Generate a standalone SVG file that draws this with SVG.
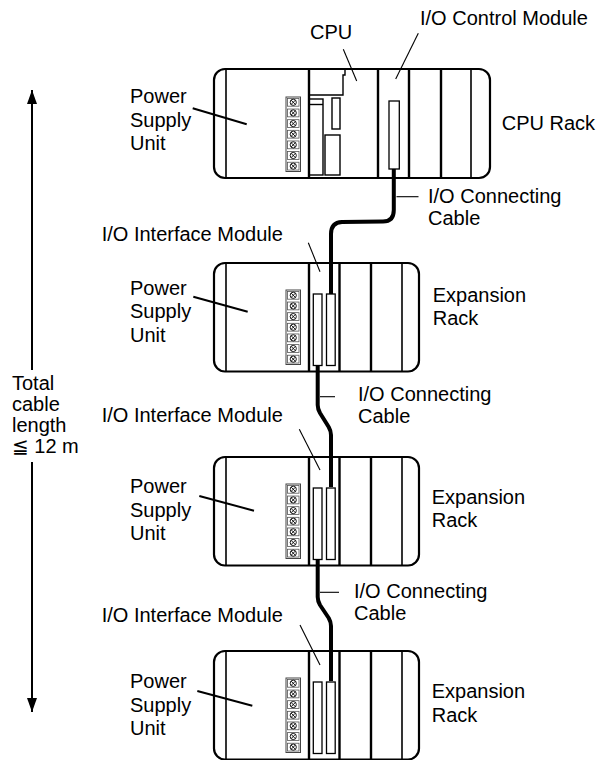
<svg xmlns="http://www.w3.org/2000/svg" xmlns:xlink="http://www.w3.org/1999/xlink" width="612" height="760" viewBox="0 0 612 760">
<style>
.t{font-family:"Liberation Sans",Arial,"DejaVu Sans","Noto Sans CJK JP",sans-serif;font-size:20px;fill:#000}
.rack{fill:#fff;stroke:#000;stroke-width:2.2}
.dv{stroke:#000;stroke-width:2.4}
.dt{stroke:#000;stroke-width:1.6}
.conn{fill:#fff;stroke:#000;stroke-width:1.3}
.thin{fill:none;stroke:#000;stroke-width:1.4}
.lead{stroke:#000;stroke-width:1.1;fill:none}
.lead2{stroke:#000;stroke-width:2;fill:none}
.cable{stroke:#000;stroke-width:4;fill:none;stroke-linejoin:round}
.tbo{fill:#fff;stroke:#444;stroke-width:1}
.tbc{fill:#fff;stroke:#555;stroke-width:0.8}
.sc{fill:none;stroke:#000;stroke-width:0.9}
</style>
<defs>
<marker id="ah" viewBox="0 0 14 10" refX="14" refY="5" markerWidth="14" markerHeight="10" markerUnits="userSpaceOnUse" orient="auto">
<path d="M0,0 L14,5 L0,10 z" fill="#000"/>
</marker>
<g id="term">
<rect class="tbc" x="1.5" y="1.4" width="11.5" height="7.8"/>
<circle class="sc" cx="7.25" cy="5.3" r="3.1"/>
<path class="sc" d="M5.1,3.15 L9.4,7.45 M9.4,3.15 L5.1,7.45"/>
</g>
<g id="tb">
<rect class="tbo" x="0" y="0" width="14.5" height="74.5"/>
<use href="#term" y="0"/>
<use href="#term" y="10.64"/>
<use href="#term" y="21.28"/>
<use href="#term" y="31.92"/>
<use href="#term" y="42.56"/>
<use href="#term" y="53.2"/>
<use href="#term" y="63.84"/>
</g>
<g id="exp">
<rect class="rack" x="0" y="0" width="205" height="108.5" rx="11"/>
<line class="dt" x1="12" y1="0" x2="12" y2="108.5"/>
<line class="dv" x1="95" y1="0" x2="95" y2="108.5"/>
<line class="dv" x1="125.5" y1="0" x2="125.5" y2="108.5"/>
<line class="dv" x1="157" y1="0" x2="157" y2="108.5"/>
<line class="dt" x1="188" y1="0" x2="188" y2="108.5"/>
<use href="#tb" x="72" y="27"/>
<rect class="conn" x="99.3" y="31" width="8.7" height="71.5"/>
<rect class="conn" x="112.5" y="31" width="8.7" height="71.5"/>
</g>
</defs>
<rect width="612" height="760" fill="#fff"/>

<g id="cpu-rack">
<rect class="rack" x="214" y="69" width="276" height="109" rx="11"/>
<line class="dt" x1="226" y1="69" x2="226" y2="178"/>
<line class="dv" x1="309" y1="69" x2="309" y2="178"/>
<line class="dv" x1="378" y1="69" x2="378" y2="178"/>
<line class="dv" x1="409" y1="69" x2="409" y2="178"/>
<line class="dv" x1="441" y1="69" x2="441" y2="178"/>
<line class="dt" x1="471" y1="69" x2="471" y2="178"/>
<use href="#tb" x="286" y="97"/>
<path class="thin" d="M309,95 H343 V75 H345 V69"/>
<rect class="thin" x="309" y="99" width="14" height="76"/>
<line class="thin" x1="309" y1="104.5" x2="323" y2="104.5"/>
<rect class="thin" x="332" y="98" width="8" height="31"/>
<rect class="thin" x="325" y="135" width="15" height="40"/>
<rect class="conn" x="389" y="101" width="10.3" height="68"/>
<text class="t" x="310" y="39">CPU</text>
<line class="lead" x1="343.3" y1="49.3" x2="356.7" y2="81"/>
<text class="t" x="420" y="25">I/O Control Module</text>
<line class="lead" x1="418.3" y1="33.3" x2="395.7" y2="79"/>
<text class="t" x="130" y="103.3">Power</text>
<text class="t" x="130" y="126.6">Supply</text>
<text class="t" x="130" y="150">Unit</text>
<line class="lead2" x1="192.7" y1="108.3" x2="246.7" y2="124.3"/>
<text class="t" x="501.7" y="130">CPU Rack</text>
</g>

<g id="expansion-rack-1">
<use href="#exp" x="214" y="263"/>
<text class="t" x="101.7" y="240.7">I/O Interface Module</text>
<line class="lead" x1="308.3" y1="242.7" x2="320" y2="271.7"/>
<text class="t" x="130" y="295">Power</text>
<text class="t" x="130" y="318.3">Supply</text>
<text class="t" x="130" y="341.7">Unit</text>
<line class="lead2" x1="193.3" y1="296.7" x2="247.7" y2="311.7"/>
<text class="t" x="432.7" y="302">Expansion</text>
<text class="t" x="432.7" y="325">Rack</text>
</g>

<g id="expansion-rack-2">
<use href="#exp" x="214" y="457"/>
<text class="t" x="101.7" y="421.7">I/O Interface Module</text>
<line class="lead" x1="299.3" y1="429.3" x2="320" y2="470"/>
<text class="t" x="130" y="493.3">Power</text>
<text class="t" x="130" y="516.6">Supply</text>
<text class="t" x="130" y="540">Unit</text>
<line class="lead2" x1="199.3" y1="496" x2="254" y2="510.7"/>
<text class="t" x="431.7" y="504">Expansion</text>
<text class="t" x="431.7" y="527">Rack</text>
</g>

<g id="expansion-rack-3">
<use href="#exp" x="214" y="651"/>
<text class="t" x="101.7" y="621.7">I/O Interface Module</text>
<line class="lead" x1="300" y1="625" x2="320" y2="665"/>
<text class="t" x="130" y="688.3">Power</text>
<text class="t" x="130" y="711.6">Supply</text>
<text class="t" x="130" y="735">Unit</text>
<line class="lead2" x1="197.3" y1="691" x2="252.3" y2="705.7"/>
<text class="t" x="431.7" y="698.3">Expansion</text>
<text class="t" x="431.7" y="721.7">Rack</text>
</g>

<g id="connectors">
<path class="cable" d="M393.8,169 V210 Q393.8,221.5 383,221.5 L342,222 Q331,222.5 331,234 V294"/>
<path class="cable" d="M317.7,365 V405 Q317.7,409 320,413 L328.7,427 Q331,431 331,435 V487"/>
<path class="cable" d="M317.7,559 V597 Q317.7,601 320,605 L328.7,618 Q331,622 331,626 V681"/>
<line class="lead" x1="396.5" y1="196.7" x2="418.5" y2="196.7"/>
<line class="lead" x1="320" y1="396.7" x2="335" y2="396.7"/>
<line class="lead" x1="320" y1="592.3" x2="339" y2="592.3"/>
<line stroke="#000" stroke-width="2" x1="32" y1="370" x2="32" y2="90" marker-end="url(#ah)"/>
<line stroke="#000" stroke-width="2" x1="32" y1="462" x2="32" y2="712" marker-end="url(#ah)"/>
</g>

<g id="cable-labels">
<text class="t" x="428" y="203">I/O Connecting</text>
<text class="t" x="428" y="224.5">Cable</text>
<text class="t" x="358" y="401">I/O Connecting</text>
<text class="t" x="358" y="422.5">Cable</text>
<text class="t" x="354" y="598">I/O Connecting</text>
<text class="t" x="354" y="620">Cable</text>
</g>

<g id="total-length">
<text class="t" x="12" y="390">Total</text>
<text class="t" x="12" y="411">cable</text>
<text class="t" x="12" y="432">length</text>
<text class="t" x="12" y="453">≦ 12 m</text>
</g>
</svg>
